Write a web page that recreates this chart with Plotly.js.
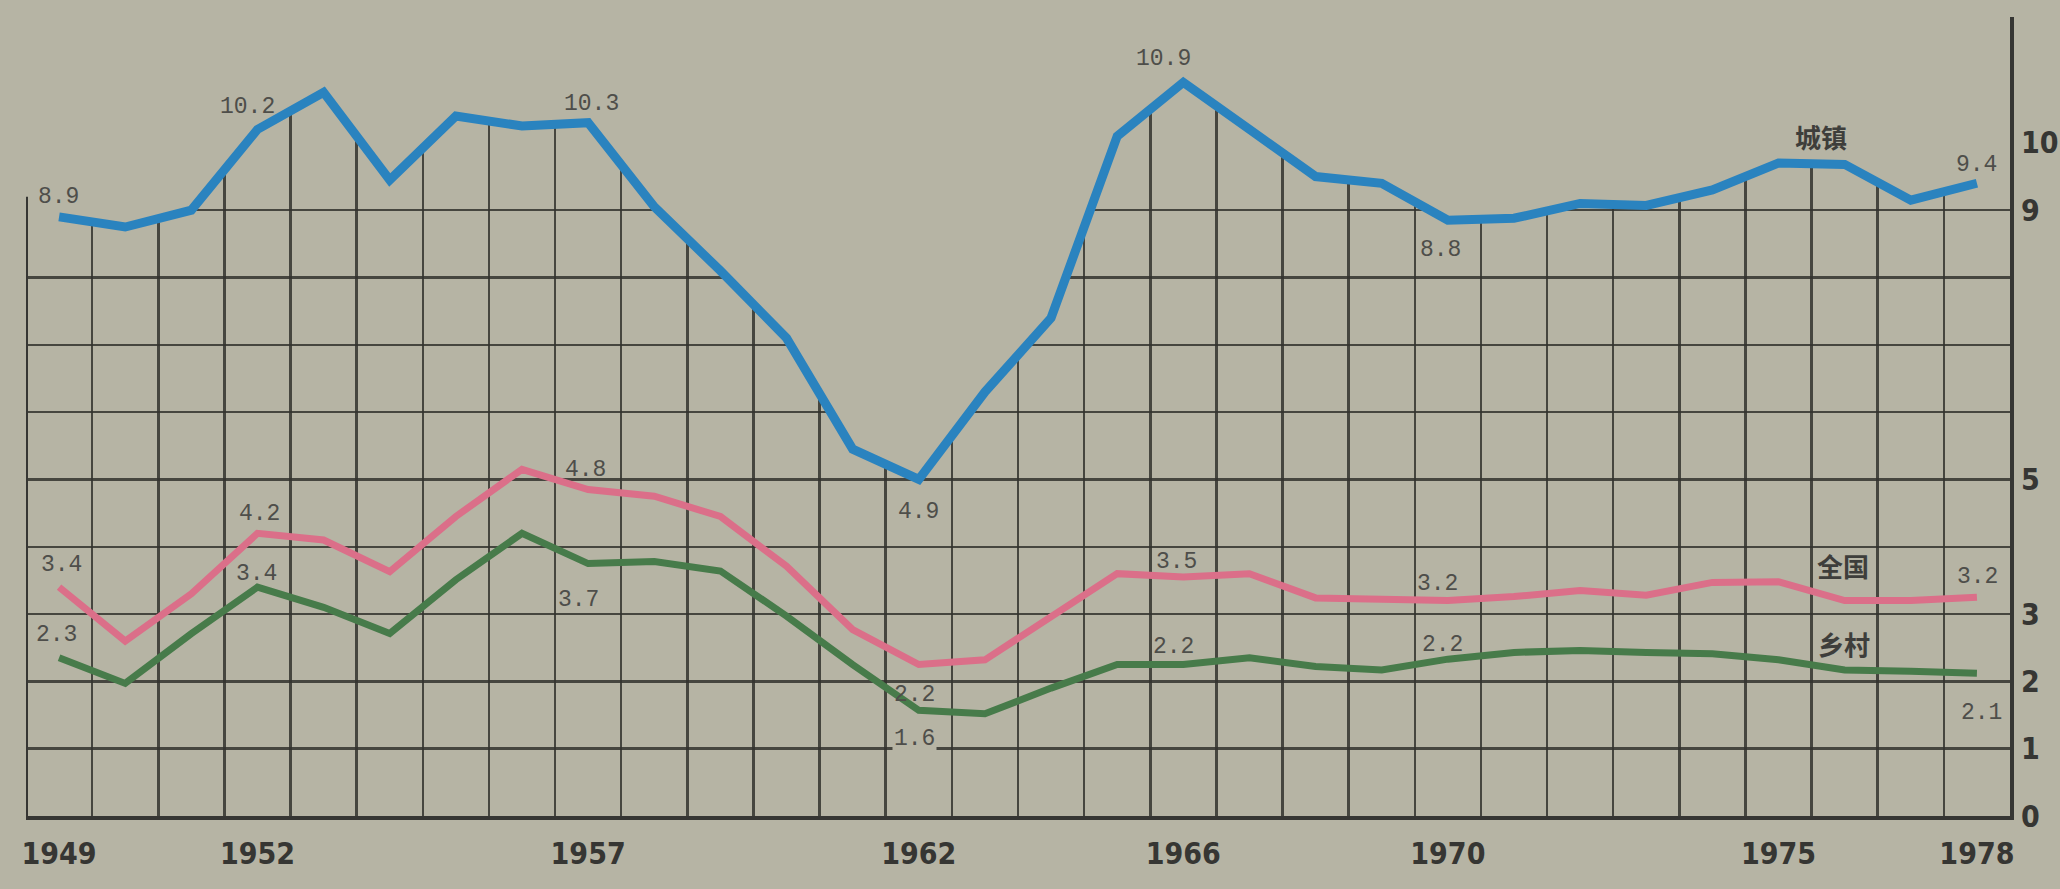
<!DOCTYPE html>
<html>
<head>
<meta charset="utf-8">
<script src="https://cdn.plot.ly/plotly-3.0.1.min.js"></script>
<style>
  html, body { margin: 0; padding: 0; background: #b5b3a3; }
  #chart { width: 2060px; height: 889px; }
</style>
</head>
<body>
<div id="chart"></div>
<script>
// ---- data ----
const years = [1949,1950,1951,1952,1953,1954,1955,1956,1957,1958,1959,1960,1961,1962,1963,
               1964,1965,1966,1967,1968,1969,1970,1971,1972,1973,1974,1975,1976,1977,1978];

// 城镇
const urban = [8.9, 8.75, 9.0, 10.2, 10.75, 9.45, 10.4, 10.25, 10.3, 9.05, 8.1, 7.1, 5.45, 5.0, 6.3,
               7.4, 10.1, 10.9, 10.2, 9.5, 9.4, 8.85, 8.88, 9.1, 9.07, 9.3, 9.7, 9.68, 9.15, 9.4];
// 全国
const national = [3.4, 2.6, 3.3, 4.2, 4.1, 3.63, 4.45, 5.15, 4.85, 4.75, 4.45, 3.71, 2.77, 2.25, 2.32,
                  2.95, 3.6, 3.55, 3.6, 3.24, 3.22, 3.2, 3.26, 3.35, 3.28, 3.47, 3.48, 3.2, 3.2, 3.25];
// 乡村
const rural = [2.35, 1.97, 2.71, 3.4, 3.1, 2.71, 3.51, 4.2, 3.75, 3.78, 3.64, 2.97, 2.25, 1.57, 1.52,
               1.9, 2.25, 2.25, 2.35, 2.22, 2.17, 2.33, 2.43, 2.46, 2.43, 2.41, 2.32, 2.17, 2.15, 2.12];

const seriesNames = ['城镇', '全国', '乡村'];
const yearTicks = [1949, 1952, 1957, 1962, 1966, 1970, 1975, 1978];
const valueTicks = [0, 1, 2, 3, 5, 9, 10];
const gridValues = [1, 2, 3, 4, 5, 6, 7, 8, 9];

// value labels printed on the chart: [series, year, text, xshift, yshift]
const valueLabels = [
  ['城镇', 1949, '8.9', -1, 20],
  ['城镇', 1952, '10.2', -10, 22],
  ['城镇', 1957, '10.3', 3, 19],
  ['城镇', 1962, '4.9', 0, -33],
  ['城镇', 1966, '10.9', -20, 23],
  ['城镇', 1970, '8.8', -7, -30],
  ['城镇', 1978, '9.4', 0, 18],
  ['全国', 1949, '3.4', 2, 22],
  ['全国', 1952, '4.2', 2, 19],
  ['全国', 1957, '4.8', -3, 20],
  ['全国', 1962, '2.2', -4, -30],
  ['全国', 1966, '3.5', -7, 15],
  ['全国', 1970, '3.2', -10, 17],
  ['全国', 1978, '3.2', 1, 20],
  ['乡村', 1949, '2.3', -3, 23],
  ['乡村', 1952, '3.4', -1, 13],
  ['乡村', 1957, '3.7', -10, -36],
  ['乡村', 1962, '1.6', -4, -29],
  ['乡村', 1966, '2.2', -10, 18],
  ['乡村', 1970, '2.2', -5, 14],
  ['乡村', 1978, '2.1', 5, -40]
];
// series name labels: [series, anchor year, xshift, yshift]
const nameLabels = [
  ['城镇', 1976, -24, 28],
  ['全国', 1976, -2, 35],
  ['乡村', 1976, -1, 26]
];

// ---- styling ----
const BG = '#b6b4a4';
const INK = '#363633';
const GRID = 'rgba(50,50,46,0.85)';
const colors = { '城镇': '#2a83bf', '全国': '#db6f89', '乡村': '#477b4a' };
const widths = { '城镇': 9, '全国': 7, '乡村': 7 };
const seriesData = { '城镇': urban, '全国': national, '乡村': rural };

const xMin = years[0] - 0.5, xMax = years[years.length - 1] + 0.5;
const yTop = 11.87;

// mask: hides the grid above the 城镇 curve, as in the printed chart
const maskX = [xMin].concat(years, [xMax, xMax, xMin]);
const maskY = [urban[0]].concat(urban, [urban[urban.length - 1], yTop, yTop]);

const traces = [{
  x: maskX, y: maskY, mode: 'lines', fill: 'toself', fillcolor: BG,
  line: { width: 0, color: BG }, hoverinfo: 'skip', showlegend: false
}];
['全国', '乡村', '城镇'].forEach(name => {
  traces.push({
    x: years, y: seriesData[name], name: name, mode: 'lines',
    line: { color: colors[name], width: widths[name], shape: 'linear' },
    showlegend: false
  });
});
// empty carrier so the right-hand value axis is drawn
traces.push({
  x: [xMin], y: [0], yaxis: 'y2', mode: 'markers', marker: { opacity: 0, size: 1 },
  hoverinfo: 'skip', showlegend: false
});

const annotations = [];
valueLabels.forEach(([s, yr, txt, dx, dy]) => {
  const i = years.indexOf(yr);
  annotations.push({
    x: yr, y: seriesData[s][i], xref: 'x', yref: 'y', text: txt, showarrow: false,
    xshift: dx, yshift: dy,
    font: { family: 'Liberation Mono, DejaVu Sans Mono, monospace', size: 23, color: '#4e4e4a' },
    bgcolor: txt === '1.6' ? BG : 'rgba(0,0,0,0)'
  });
});
nameLabels.forEach(([s, yr, dx, dy]) => {
  const i = years.indexOf(yr);
  annotations.push({
    x: yr, y: seriesData[s][i], xref: 'x', yref: 'y', text: s, showarrow: false,
    xshift: dx, yshift: dy,
    font: { family: 'Noto Sans CJK SC, sans-serif', size: 26, color: '#3e3e3b', weight: 700 }
  });
});

const tickFont = { family: 'DejaVu Sans Condensed, DejaVu Sans, sans-serif', size: 30, color: INK, weight: 700 };

const layout = {
  width: 2060, height: 889,
  margin: { l: 26, r: 50, t: 17, b: 73, pad: 0 },
  paper_bgcolor: BG, plot_bgcolor: BG,
  showlegend: false,
  xaxis: {
    range: [xMin, xMax], tickmode: 'array', tickvals: yearTicks, ticktext: yearTicks.map(String),
    ticks: '', ticklabelstandoff: 8, showgrid: false, tickfont: tickFont,
    minor: { tickmode: 'linear', tick0: xMin, dtick: 1, showgrid: true, gridcolor: GRID, gridwidth: 2.5, ticks: '' },
    zeroline: false, showline: true, linecolor: INK, linewidth: 4
  },
  yaxis: {
    range: [0, yTop], tickmode: 'array', tickvals: gridValues, showticklabels: false,
    ticks: '', showgrid: true, gridcolor: GRID, gridwidth: 2.5, zeroline: false, showline: false
  },
  yaxis2: {
    overlaying: 'y', anchor: 'x', side: 'right', range: [0, yTop],
    tickmode: 'array', tickvals: valueTicks, ticktext: valueTicks.map(String),
    ticks: '', ticklabelstandoff: 1, showgrid: false, zeroline: false,
    showline: true, linecolor: INK, linewidth: 4, tickfont: tickFont
  },
  shapes: [{
    type: 'line', xref: 'x', yref: 'y', x0: xMin, x1: xMin, y0: 0, y1: urban[0] + 0.3,
    line: { color: INK, width: 4 }, layer: 'above'
  }],
  annotations: annotations
};

Plotly.newPlot('chart', traces, layout, { staticPlot: true, displayModeBar: false });
</script>
</body>
</html>
